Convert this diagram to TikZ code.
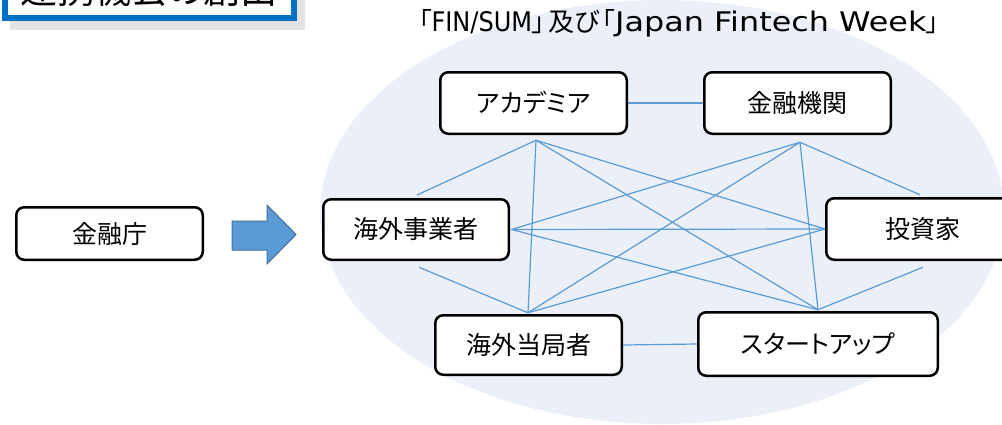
\documentclass[tikz,border=0pt]{standalone}
\usepackage{fontspec}
\usepackage{graphicx}
\setmainfont{Noto Sans CJK JP}[RawFeature={+palt}]
\newfontfamily\latinfont{DejaVu Sans}
\usetikzlibrary{calc}
\definecolor{ellbg}{HTML}{EBF0F8}
\definecolor{linkblue}{HTML}{5B9BD5}
\definecolor{arrowedge}{HTML}{41719C}
\definecolor{titleblue}{HTML}{0070C0}
\definecolor{shadowgray}{HTML}{E3E3E3}
\tikzset{
  box/.style={draw=black, line width=2.5pt, rounded corners=8pt, fill=white,
    inner sep=0pt, font=\fontsize{25}{30}\selectfont},
  link/.style={draw=linkblue, line width=1.2pt},
}
\begin{document}
\begin{tikzpicture}[x=1pt,y=-1pt]
\useasboundingbox (0,0) rectangle (1002,424);
\clip (0,0) rectangle (1002,424);
% title box (cut at top)
\fill[shadowgray] (10,-60) rectangle (305,30);
\draw[titleblue, line width=6pt, fill=white] (5,-60) rectangle (294,18);
\node[anchor=base, inner sep=0pt, font=\fontsize{37}{40}\selectfont] (title) at (149,3) {連携機会の創出};
% background ellipse
\fill[ellbg] (662,212) ellipse [x radius=342, y radius=212];
% subtitle
\node[anchor=base, inner sep=0pt, font=\fontsize{26}{30}\selectfont] (sub) at (679,31.5)
  {「{\latinfont\fontsize{27}{30}\selectfont\scalebox{0.89}[1]{FIN/SUM}}」\hspace{3pt}及び\hspace{3pt}「{\latinfont\fontsize{27}{30}\selectfont\scalebox{1.18}[1]{Japan Fintech Week}}」};
% boxes
\node[box, minimum width=186.5pt, minimum height=61.5pt] (aca) at (533.5,103) {アカデミア};
\node[box, minimum width=186.5pt, minimum height=61.5pt] (fin) at (797.5,103) {金融機関};
\node[box, minimum width=185.5pt, minimum height=60.5pt] (jig) at (416,229.5) {海外事業者};
\node[box, minimum width=193.5pt, minimum height=61.5pt] (tos) at (923,229) {投資家};
\node[box, minimum width=186.5pt, minimum height=59.5pt] (kyo) at (528.5,345) {海外当局者};
\node[box, minimum width=239.5pt, minimum height=63.5pt] (sta) at (818,344) {スタートアップ};
\node[box, minimum width=186.5pt, minimum height=52.5pt] (fsa) at (109.5,233.5) {金融庁};
% hub coordinates
\coordinate (hA) at ($(aca.south)+(2.5,5.25)$);
\coordinate (hF) at ($(fin.south)+(2.5,7.25)$);
\coordinate (hJr) at ($(jig.east)+(1.5,0)$);
\coordinate (hJt) at ($(jig.north)+(1,-3)$);
\coordinate (hJb) at ($(jig.south)+(3,6.25)$);
\coordinate (hTl) at (tos.west);
\coordinate (hTt) at ($(tos.north)+(-3,-2.25)$);
\coordinate (hTb) at ($(tos.south)+(0,6.25)$);
\coordinate (hKt) at ($(kyo.north)+(-0.5,-1.25)$);
\coordinate (hSt) at ($(sta.north)+(0,-1.25)$);
% links
\draw[link] (aca.east) -- (fin.west);
\draw[link] (kyo.east) -- (sta.west);
\draw[link] (hA) -- (hJt);
\draw[link] (hA) -- (hKt);
\draw[link] (hA) -- (hSt);
\draw[link] (hA) -- (hTl);
\draw[link] (hF) -- (hTt);
\draw[link] (hF) -- (hSt);
\draw[link] (hF) -- (hKt);
\draw[link] (hF) -- (hJr);
\draw[link] (hJr) -- (hTl);
\draw[link] (hJr) -- (hSt);
\draw[link] (hJb) -- (hKt);
\draw[link] (hTl) -- (hKt);
\draw[link] (hTb) -- (hSt);
% block arrow
\draw[fill=linkblue, draw=arrowedge, line width=1pt, line join=miter]
  (232,221) -- (267,221) -- (267,205) -- (296,234.5) -- (267,264) -- (267,250) -- (232,250) -- cycle;
\end{tikzpicture}
\end{document}
